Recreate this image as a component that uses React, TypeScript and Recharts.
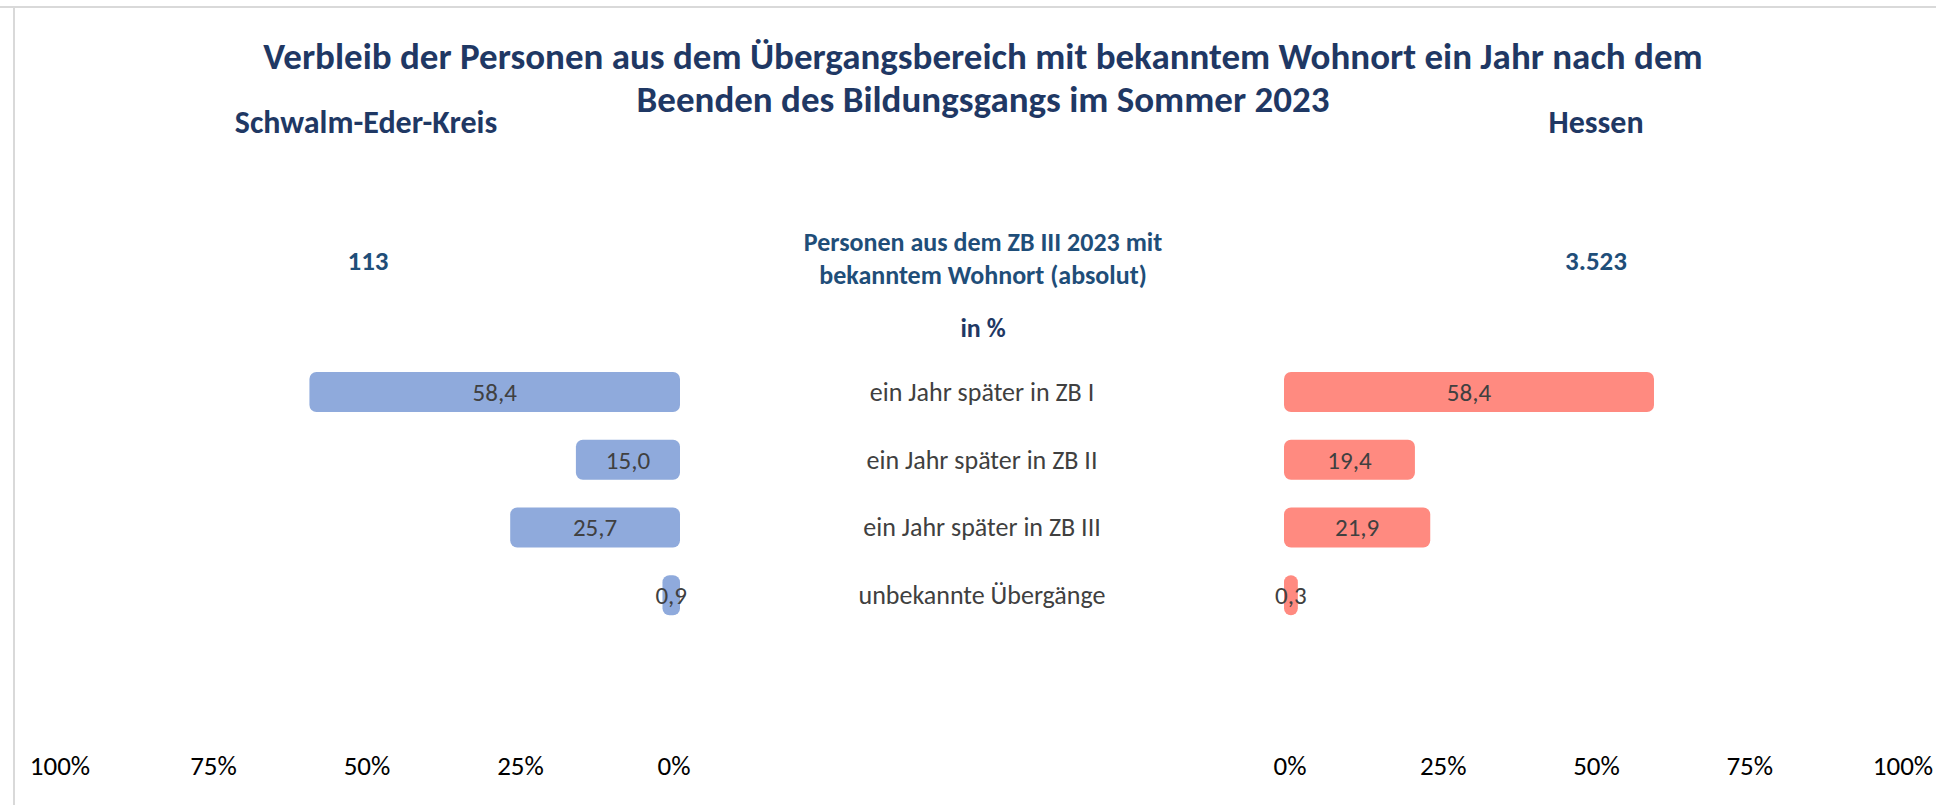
import React from 'react';
import { BarChart, Bar, XAxis, YAxis, LabelList } from 'recharts';

const categories = [
  'ein Jahr später in ZB I',
  'ein Jahr später in ZB II',
  'ein Jahr später in ZB III',
  'unbekannte Übergänge',
];
const schwalmValues = [58.4, 15.0, 25.7, 0.9];
const hessenValues = [58.4, 19.4, 21.9, 0.3];
const regionNames = ['Schwalm-Eder-Kreis', 'Hessen'];
const regionTotals = ['113', '3.523'];
const axisTicks = [0, 25, 50, 75, 100];
const titleLines = [
  'Verbleib der Personen aus dem Übergangsbereich mit bekanntem Wohnort ein Jahr nach dem',
  'Beenden des Bildungsgangs im Sommer 2023',
];
const subtitleLines = ['Personen aus dem ZB III 2023 mit', 'bekanntem Wohnort (absolut)'];
const unitLabel = 'in %';

const data = categories.map((c, i) => ({
  category: c,
  schwalm: schwalmValues[i],
  hessen: hessenValues[i],
}));

const W = 1936;
const H = 805;
const FONT = "Carlito, Calibri, Lato, 'Open Sans', sans-serif";
const NAVY = '#1F3864';
const STEEL = '#1F4E79';
const BLUE = '#8FAADC';
const SALMON = '#FF8A80';
const LABEL_AXIS_W = 616;

const fmt = (v: any) => Number(v).toFixed(1).replace('.', ',');
const pct = (v: any) => `${v}%`;

const RoundedBar = (props: any) => {
  const { x, y, width, height, fill } = props;
  const x0 = Math.min(x, x + width);
  const w = Math.abs(width);
  return <rect x={x0 - 6} y={y} width={w + 12} height={height} rx={7} ry={7} fill={fill} />;
};

const CategoryTick = (props: any) => {
  const { x, y, payload } = props;
  return (
    <text x={x + LABEL_AXIS_W / 2} y={y} textAnchor="middle" dominantBaseline="central" fill="#404040" fontSize={26}>
      {payload.value}
    </text>
  );
};

const Txt = ({ x, y, children, size, color, bold = true }: any) => (
  <div
    style={{
      position: 'absolute',
      left: x,
      top: y,
      transform: 'translate(-50%, -50%)',
      whiteSpace: 'nowrap',
      fontSize: size,
      fontWeight: bold ? 700 : 400,
      color,
      lineHeight: 1,
    }}
  >
    {children}
  </div>
);

const margins = { top: 358, bottom: 26 };

export default function App() {
  return (
    <div
      style={{
        position: 'absolute',
        left: 0,
        top: 0,
        width: W,
        height: H,
        background: '#fff',
        fontFamily: FONT,
        overflow: 'hidden',
      }}
    >
      <div style={{ position: 'absolute', left: 0, top: 6, width: W, height: 2, background: '#D9D9D9' }} />
      <div style={{ position: 'absolute', left: 13, top: 6, width: 2, height: H, background: '#D9D9D9' }} />

      <div style={{ position: 'absolute', left: 0, top: 0 }}>
        <BarChart
          width={W}
          height={H}
          data={data}
          layout="vertical"
          margin={{ top: margins.top, bottom: margins.bottom, left: 60, right: W - 1290 }}
        >
          <XAxis
            type="number"
            domain={[0, 100]}
            ticks={axisTicks}
            reversed
            interval={0}
            tickFormatter={pct}
            axisLine={false}
            tickLine={false}
            tickSize={0}
            tickMargin={127}
            height={150}
            tick={{ fill: '#000', fontSize: 27 }}
          />
          <YAxis
            type="category"
            dataKey="category"
            orientation="right"
            width={LABEL_AXIS_W}
            axisLine={false}
            tickLine={false}
            tickSize={0}
            tickMargin={0}
            interval={0}
            tick={<CategoryTick />}
          />
          <Bar dataKey="schwalm" fill={BLUE} barSize={40} shape={<RoundedBar />} isAnimationActive={false}>
            <LabelList dataKey="schwalm" position="center" formatter={fmt} fill="#404040" fontSize={25} />
          </Bar>
        </BarChart>
      </div>

      <div style={{ position: 'absolute', left: 0, top: 0 }}>
        <BarChart
          width={W}
          height={H}
          data={data}
          layout="vertical"
          margin={{ top: margins.top, bottom: margins.bottom, left: 1290, right: 33 }}
        >
          <XAxis
            type="number"
            domain={[0, 100]}
            ticks={axisTicks}
            interval={0}
            tickFormatter={pct}
            axisLine={false}
            tickLine={false}
            tickSize={0}
            tickMargin={127}
            height={150}
            tick={{ fill: '#000', fontSize: 27 }}
          />
          <YAxis type="category" dataKey="category" hide />
          <Bar dataKey="hessen" fill={SALMON} barSize={40} shape={<RoundedBar />} isAnimationActive={false}>
            <LabelList dataKey="hessen" position="center" formatter={fmt} fill="#404040" fontSize={25} />
          </Bar>
        </BarChart>
      </div>

      <Txt x={983} y={56} size={37} color={NAVY}>{titleLines[0]}</Txt>
      <Txt x={983} y={99} size={37} color={NAVY}>{titleLines[1]}</Txt>
      <Txt x={366} y={123} size={32} color={NAVY}>{regionNames[0]}</Txt>
      <Txt x={1596} y={123} size={32} color={NAVY}>{regionNames[1]}</Txt>
      <Txt x={368} y={260} size={27} color={STEEL}>{regionTotals[0]}</Txt>
      <Txt x={1596} y={260} size={27} color={STEEL}>{regionTotals[1]}</Txt>
      <Txt x={983} y={242} size={26} color={STEEL}>{subtitleLines[0]}</Txt>
      <Txt x={983} y={275} size={26} color={STEEL}>{subtitleLines[1]}</Txt>
      <Txt x={983} y={328} size={26} color={NAVY}>{unitLabel}</Txt>
    </div>
  );
}
